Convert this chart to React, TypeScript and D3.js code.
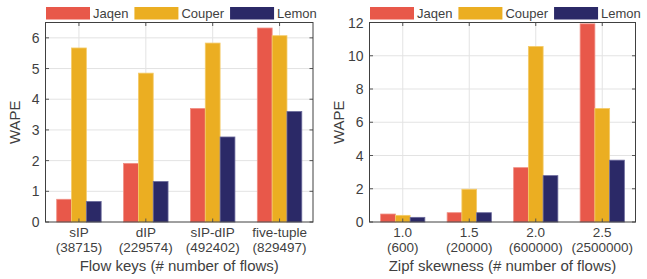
import { useEffect, useRef } from 'react';
import * as d3 from 'd3';

const SERIES = ['Jaqen', 'Couper', 'Lemon'];
const COLORS = ['#E8584A', '#EBAE22', '#2B2967'];
const EDGES = ['#F08F84', '#F4CB6A', '#6C6B9C'];

// left panel: flow keys
const KEY_CATS = ['sIP', 'dIP', 'sIP-dIP', 'five-tuple'];
const KEY_FLOWS = ['(38715)', '(229574)', '(492402)', '(829497)'];
const KEY_JAQEN = [0.74, 1.91, 3.7, 6.32];
const KEY_COUPER = [5.67, 4.85, 5.83, 6.07];
const KEY_LEMON = [0.67, 1.32, 2.77, 3.6];
const KEY_TICKS = [0, 1, 2, 3, 4, 5, 6];

// right panel: zipf skewness
const ZIPF_CATS = ['1.0', '1.5', '2.0', '2.5'];
const ZIPF_FLOWS = ['(600)', '(20000)', '(600000)', '(2500000)'];
const ZIPF_JAQEN = [0.48, 0.56, 3.27, 11.92];
const ZIPF_COUPER = [0.4, 1.97, 10.56, 6.83];
const ZIPF_LEMON = [0.28, 0.56, 2.79, 3.72];
const ZIPF_TICKS = [0, 2, 4, 6, 8, 10, 12];

const panels = [
  {
    left: 45.5, right: 313, yMax: 6.5, ticks: KEY_TICKS, fmt: d3.format('d'),
    cats: KEY_CATS, flows: KEY_FLOWS, values: [KEY_JAQEN, KEY_COUPER, KEY_LEMON],
    title: 'Flow keys (# number of flows)', ylabX: 20
  },
  {
    left: 369.5, right: 635.5, yMax: 12, ticks: ZIPF_TICKS, fmt: d3.format('d'),
    cats: ZIPF_CATS, flows: ZIPF_FLOWS, values: [ZIPF_JAQEN, ZIPF_COUPER, ZIPF_LEMON],
    title: 'Zipf skewness (# number of flows)', ylabX: 344
  }
];

export default function App() {
  const svgRef = useRef(null);

  useEffect(() => {
    const svg = d3.select(svgRef.current);
    svg.selectAll('*').remove();

    const top = 22.5;
    const bottom = 222;
    const textColor = '#3f3f3f';
    const font = 'Liberation Sans, Arial, sans-serif';

    panels.forEach(p => {
      const g = svg.append('g');
      const y = d3.scaleLinear().domain([0, p.yMax]).range([bottom, top]);
      const x = d3.scaleBand().domain(p.cats).range([p.left, p.right]).padding(0);
      const groupW = x.step() * 0.665;
      const inner = d3.scaleBand().domain(SERIES).range([0, groupW]).padding(0);

      // plot background + grid
      g.append('rect')
        .attr('x', p.left).attr('y', top)
        .attr('width', p.right - p.left).attr('height', bottom - top)
        .attr('fill', '#fff');

      g.selectAll('.hgrid')
        .data(p.ticks.filter(t => t > 0 && t < p.yMax))
        .enter().append('line')
        .attr('x1', p.left).attr('x2', p.right)
        .attr('y1', d => y(d)).attr('y2', d => y(d))
        .attr('stroke', '#e3e3e3').attr('stroke-width', 1);

      g.selectAll('.vgrid')
        .data(p.cats)
        .enter().append('line')
        .attr('x1', d => x(d) + x.bandwidth() / 2).attr('x2', d => x(d) + x.bandwidth() / 2)
        .attr('y1', top).attr('y2', bottom)
        .attr('stroke', '#e3e3e3').attr('stroke-width', 1);

      // bars
      SERIES.forEach((s, si) => {
        g.selectAll('.bar-' + si)
          .data(p.cats)
          .enter().append('rect')
          .attr('x', d => x(d) + (x.step() - groupW) / 2 + inner(s))
          .attr('y', (d, i) => y(p.values[si][i]))
          .attr('width', inner.bandwidth())
          .attr('height', (d, i) => bottom - y(p.values[si][i]))
          .attr('fill', COLORS[si])
          .attr('stroke', EDGES[si])
          .attr('stroke-width', 0.8);
      });

      // ticks, inward on all sides
      const tickLen = 3.5;
      const tickColor = '#555';
      p.ticks.forEach(t => {
        g.append('line')
          .attr('x1', p.left).attr('x2', p.left + tickLen)
          .attr('y1', y(t)).attr('y2', y(t))
          .attr('stroke', tickColor);
        g.append('line')
          .attr('x1', p.right).attr('x2', p.right - tickLen)
          .attr('y1', y(t)).attr('y2', y(t))
          .attr('stroke', tickColor);
        g.append('text')
          .attr('x', p.left - 6).attr('y', y(t))
          .attr('dy', '0.36em')
          .attr('text-anchor', 'end')
          .attr('font-size', 14)
          .attr('font-family', font)
          .attr('fill', textColor)
          .text(p.fmt(t));
      });
      p.cats.forEach((c, i) => {
        const cx = x(c) + x.bandwidth() / 2;
        g.append('line')
          .attr('x1', cx).attr('x2', cx)
          .attr('y1', bottom).attr('y2', bottom - tickLen)
          .attr('stroke', tickColor);
        g.append('line')
          .attr('x1', cx).attr('x2', cx)
          .attr('y1', top).attr('y2', top + tickLen)
          .attr('stroke', tickColor);
        g.append('text')
          .attr('x', cx).attr('y', 237)
          .attr('text-anchor', 'middle')
          .attr('font-size', 13.5)
          .attr('font-family', font)
          .attr('fill', textColor)
          .text(c);
        g.append('text')
          .attr('x', cx).attr('y', 251.5)
          .attr('text-anchor', 'middle')
          .attr('font-size', 13.5)
          .attr('font-family', font)
          .attr('fill', textColor)
          .text(p.flows[i]);
      });

      // frame
      g.append('rect')
        .attr('x', p.left).attr('y', top)
        .attr('width', p.right - p.left).attr('height', bottom - top)
        .attr('fill', 'none')
        .attr('stroke', '#404040').attr('stroke-width', 1);

      // axis titles
      g.append('text')
        .attr('x', (p.left + p.right) / 2).attr('y', 270.5)
        .attr('text-anchor', 'middle')
        .attr('font-size', 15)
        .attr('font-family', font)
        .attr('fill', textColor)
        .text(p.title);
      g.append('text')
        .attr('transform', `translate(${p.ylabX},${(top + bottom) / 2}) rotate(-90)`)
        .attr('text-anchor', 'middle')
        .attr('font-size', 15)
        .attr('font-family', font)
        .attr('fill', textColor)
        .text('WAPE');

      // legend above the box
      let lx = p.left + 0.5;
      SERIES.forEach((s, si) => {
        g.append('rect')
          .attr('x', lx).attr('y', 7)
          .attr('width', 44).attr('height', 12.5)
          .attr('fill', COLORS[si]);
        const t = g.append('text')
          .attr('x', lx + 47).attr('y', 18)
          .attr('font-size', 13)
          .attr('font-family', font)
          .attr('fill', textColor)
          .text(s);
        const w = t.node().getComputedTextLength();
        lx += 47 + w + 6;
      });
    });
  }, []);

  return (
    <svg
      ref={svgRef}
      width={647}
      height={279}
      style={{ position: 'fixed', left: 0, top: 0, background: '#fff', display: 'block' }}
    />
  );
}
